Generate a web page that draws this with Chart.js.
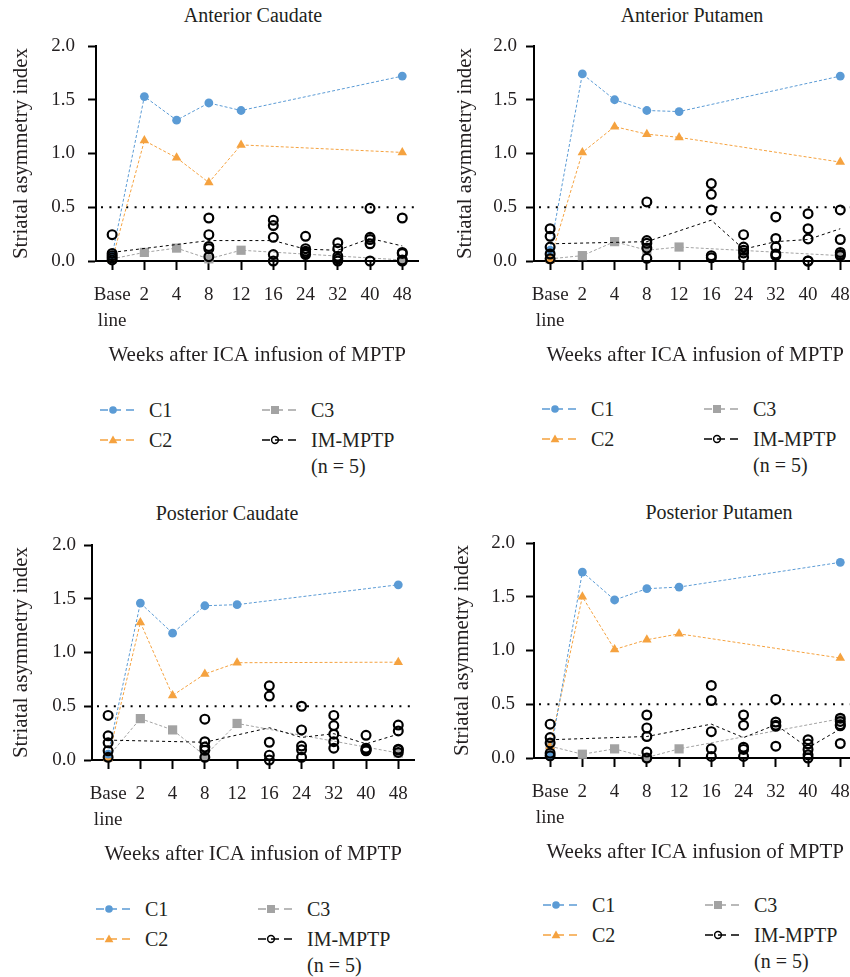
<!DOCTYPE html>
<html>
<head>
<meta charset="utf-8">
<script src="https://cdn.jsdelivr.net/npm/chart.js@4.4.1/dist/chart.umd.min.js"></script>
<style>
  html, body { margin: 0; padding: 0; background: #fff; }
  body { width: 850px; height: 977px; position: relative; overflow: hidden;
         font-family: "Liberation Serif", "Times New Roman", serif; color: #231f20; }
  .panel { position: absolute; }
  .ptitle { position: absolute; width: 300px; text-align: center; font-size: 20px; line-height: 24px; }
  .lg { position: absolute; font-size: 20px; line-height: 26px; white-space: nowrap; }
  .lg svg { position: absolute; left: 0; top: 6px; }
  .lg span { position: absolute; left: 49px; top: 0; }
</style>
</head>
<body>

<script>
// ── data ─────────────────────────────────────────
const LABELS = ['Baseline', '2', '4', '8', '12', '16', '24', '32', '40', '48'];
const Y_TICKS = [0, 0.5, 1.0, 1.5, 2.0];
const THRESHOLD = 0.5;
const SERIES = ['C1', 'C2', 'C3', 'IM-MPTP'];

// Anterior Caudate
const AC_C1 = [0.05, 1.53, 1.31, 1.47, 1.40, null, null, null, null, 1.72];
const AC_C2 = [0.01, 1.12, 0.96, 0.73, 1.08, null, null, null, null, 1.01];
const AC_C3 = [0.02, 0.08, 0.12, 0.02, 0.10, null, null, null, null, 0.01];
const AC_MEAN = [0.08, null, null, 0.19, null, 0.19, 0.11, 0.10, 0.21, 0.14];
const AC_IM = [[0.245, 0.07, 0.05, 0.03, 0.01], null, null,
  [0.40, 0.245, 0.135, 0.115, 0.04], null,
  [0.38, 0.33, 0.22, 0.06, 0.0], [0.23, 0.115, 0.09, 0.075, 0.06],
  [0.17, 0.115, 0.045, 0.02, 0.0], [0.49, 0.22, 0.20, 0.16, 0.0],
  [0.40, 0.08, 0.07, 0.01, 0.0]];

// Anterior Putamen
const AP_C1 = [0.10, 1.74, 1.50, 1.40, 1.39, null, null, null, null, 1.72];
const AP_C2 = [0.01, 1.01, 1.25, 1.18, 1.15, null, null, null, null, 0.92];
const AP_C3 = [0.02, 0.05, 0.18, 0.10, 0.13, null, null, null, null, 0.05];
const AP_MEAN = [0.16, null, null, 0.18, null, 0.38, 0.11, 0.18, 0.20, 0.30];
const AP_IM = [[0.30, 0.23, 0.13, 0.065, 0.02], null, null,
  [0.55, 0.19, 0.165, 0.12, 0.025], null,
  [0.72, 0.62, 0.475, 0.05, 0.03], [0.245, 0.13, 0.10, 0.075, 0.035],
  [0.41, 0.21, 0.13, 0.065, 0.05], [0.44, 0.30, 0.205, 0.0, 0.0],
  [0.475, 0.20, 0.08, 0.06, 0.05]];

// Posterior Caudate
const PC_C1 = [0.055, 1.46, 1.18, 1.435, 1.445, null, null, null, null, 1.63];
const PC_C2 = [0.015, 1.28, 0.60, 0.80, 0.905, null, null, null, null, 0.91];
const PC_C3 = [0.03, 0.385, 0.28, 0.04, 0.34, null, null, null, null, 0.065];
const PC_MEAN = [0.185, null, null, 0.165, null, 0.30, 0.21, 0.245, 0.15, 0.24];
const PC_IM = [[0.415, 0.225, 0.16, 0.085, 0.025], null, null,
  [0.38, 0.17, 0.12, 0.09, 0.025], null,
  [0.69, 0.595, 0.165, 0.045, 0.0], [0.50, 0.28, 0.13, 0.095, 0.025],
  [0.415, 0.32, 0.24, 0.17, 0.11], [0.23, 0.11, 0.10, 0.09, 0.085],
  [0.325, 0.27, 0.10, 0.095, 0.07]];

// Posterior Putamen
const PP_C1 = [0.025, 1.73, 1.47, 1.575, 1.59, null, null, null, null, 1.82];
const PP_C2 = [0.11, 1.50, 1.01, 1.10, 1.155, null, null, null, null, 0.93];
const PP_C3 = [0.11, 0.035, 0.085, 0.005, 0.085, null, null, null, null, 0.365];
const PP_MEAN = [0.17, null, null, 0.20, null, 0.315, 0.19, 0.31, 0.095, 0.27];
const PP_IM = [[0.315, 0.19, 0.14, 0.045, 0.02], null, null,
  [0.40, 0.28, 0.20, 0.055, 0.0], null,
  [0.675, 0.535, 0.245, 0.085, 0.015], [0.40, 0.305, 0.10, 0.08, 0.015],
  [0.545, 0.335, 0.305, 0.295, 0.11], [0.17, 0.13, 0.08, 0.03, 0.0],
  [0.37, 0.34, 0.31, 0.30, 0.135]];

// ── style ────────────────────────────────────────
const INK = '#231f20';
const C1_COLOR = '#5b9bd5';
const C2_COLOR = '#f5a23f';
const C3_COLOR = '#a3a3a3';
const FONT = '"Liberation Serif", serif';

const PANELS = [
  { title: 'Anterior Caudate',  c1: AC_C1, c2: AC_C2, c3: AC_C3, mean: AC_MEAN, im: AC_IM,
    left: 0,   top: 0,   tx: 253, ty: 15,  lx: 100, ly: 410, yTitlePad: 9,    tickPad: 13 },
  { title: 'Anterior Putamen',  c1: AP_C1, c2: AP_C2, c3: AP_C3, mean: AP_MEAN, im: AP_IM,
    left: 438, top: 0,   tx: 692, ty: 15,  lx: 542, ly: 409, yTitlePad: 14.4, tickPad: 9 },
  { title: 'Posterior Caudate', c1: PC_C1, c2: PC_C2, c3: PC_C3, mean: PC_MEAN, im: PC_IM,
    left: -4,  top: 499, tx: 227, ty: 513, lx: 96,  ly: 909, yTitlePad: 12.9, tickPad: 8 },
  { title: 'Posterior Putamen', c1: PP_C1, c2: PP_C2, c3: PP_C3, mean: PP_MEAN, im: PP_IM,
    left: 438, top: 497, tx: 719, ty: 512, lx: 543, ly: 905, yTitlePad: 11.9, tickPad: 11 }
];

Chart.defaults.font.family = FONT;
Chart.defaults.color = INK;

// dotted reference line at 0.5, drawn through the y scale
const thresholdLine = {
  id: 'thresholdLine',
  beforeDatasetsDraw(chart) {
    const { ctx, chartArea, scales } = chart;
    const y = scales.y.getPixelForValue(THRESHOLD);
    ctx.save();
    ctx.strokeStyle = '#000';
    ctx.lineWidth = 2;
    ctx.setLineDash([2, 6.4]);
    ctx.beginPath();
    ctx.moveTo(chartArea.left + 5, y);
    ctx.lineTo(chartArea.right, y);
    ctx.stroke();
    ctx.restore();
  }
};

function imPoints(im) {
  const pts = [];
  im.forEach((vals, i) => {
    if (!vals) return;
    vals.forEach(v => pts.push({ x: LABELS[i], y: v }));
  });
  return pts;
}

function lineSet(label, data, color, style, radius) {
  return {
    label, data, spanGaps: true, clip: false,
    borderColor: color, borderWidth: 1, borderDash: [3, 2],
    pointStyle: style, pointRadius: radius, pointHoverRadius: radius,
    pointBackgroundColor: color, pointBorderColor: color, pointBorderWidth: 0
  };
}

function addTitle(p) {
  const t = document.createElement('div');
  t.className = 'ptitle';
  t.textContent = p.title;
  t.style.left = (p.tx - 150) + 'px';
  t.style.top = (p.ty - 12) + 'px';
  document.body.appendChild(t);
}

function makePanel(p) {
  const wrap = document.createElement('div');
  wrap.className = 'panel';
  wrap.style.left = p.left + 'px';
  wrap.style.top = p.top + 'px';
  const canvas = document.createElement('canvas');
  canvas.width = 425;
  canvas.height = 371;
  wrap.appendChild(canvas);
  document.body.appendChild(wrap);

  new Chart(canvas, {
    type: 'line',
    data: {
      labels: LABELS,
      datasets: [
        {
          label: SERIES[3], data: imPoints(p.im), showLine: false, clip: false,
          pointStyle: 'circle', pointRadius: 4.4, pointHoverRadius: 4.4,
          pointBorderWidth: 2.2, pointBorderColor: '#000',
          pointBackgroundColor: 'rgba(0,0,0,0)'
        },
        lineSet(SERIES[0], p.c1, C1_COLOR, 'circle', 4.4),
        lineSet(SERIES[1], p.c2, C2_COLOR, 'triangle', 5.5),
        { ...lineSet(SERIES[3] + ' mean', p.mean, '#000', 'circle', 0), borderDash: [3, 3] },
        lineSet(SERIES[2], p.c3, C3_COLOR, 'rect', 6.5)
      ]
    },
    options: {
      responsive: false,
      animation: false,
      events: [],
      layout: { padding: { top: 46, right: 6, bottom: 0, left: 0 } },
      plugins: { legend: { display: false }, tooltip: { enabled: false } },
      scales: {
        x: {
          offset: true,
          grid: { drawOnChartArea: false, drawTicks: true, tickLength: 9, tickWidth: 2, tickColor: '#000' },
          border: { display: true, color: '#000', width: 2 },
          ticks: {
            padding: 12, maxRotation: 0, autoSkip: false, color: INK,
            font: { family: FONT, size: 19, lineHeight: 1.37 },
            callback: (v, i) => LABELS[i] === 'Baseline' ? ['Base', 'line'] : LABELS[i]
          },
          title: { display: true, text: 'Weeks after ICA infusion of MPTP', color: INK,
                   font: { family: FONT, size: 21 }, padding: { top: 4, bottom: 3.4 } },
          afterFit: s => { s.height = 110; }
        },
        y: {
          min: 0, max: 2,
          afterBuildTicks: s => { s.ticks = Y_TICKS.map(v => ({ value: v })); },
          grid: { drawOnChartArea: false, drawTicks: true, tickLength: 8, tickWidth: 2, tickColor: '#000' },
          border: { display: true, color: '#000', width: 2 },
          ticks: { padding: p.tickPad, color: INK, font: { family: FONT, size: 19 },
                   callback: v => v.toFixed(1) },
          title: { display: true, text: 'Striatal asymmetry index', color: INK,
                   font: { family: FONT, size: 21 }, padding: { top: p.yTitlePad, bottom: 0 } },
          afterFit: s => { s.width = 96; }
        }
      }
    },
    plugins: [thresholdLine]
  });

  addLegend(p.lx, p.ly);
}

function markerSvg(color, marker) {
  let m = '';
  if (marker === 'circle') m = `<circle cx="13" cy="7" r="3.8" fill="${color}"/>`;
  if (marker === 'triangle') m = `<polygon points="13,2.6 17.4,10.2 8.6,10.2" fill="${color}"/>`;
  if (marker === 'rect') m = `<rect x="9" y="3" width="8" height="8" fill="${color}"/>`;
  if (marker === 'open') m = `<circle cx="13" cy="7" r="3.4" fill="none" stroke="${color}" stroke-width="1.5"/>`;
  return `<svg width="36" height="14" viewBox="0 0 36 14">` +
    `<line x1="0" y1="7" x2="34" y2="7" stroke="${color}" stroke-width="1.3" stroke-dasharray="8 5"/>` +
    m + `</svg>`;
}

function addLegend(x, y) {
  const items = [
    { text: SERIES[0], color: C1_COLOR, marker: 'circle', dx: 0, dy: 0 },
    { text: SERIES[1], color: C2_COLOR, marker: 'triangle', dx: 0, dy: 30 },
    { text: SERIES[2], color: C3_COLOR, marker: 'rect', dx: 162, dy: 0 },
    { text: SERIES[3] + '<br>(n = 5)', color: '#000', marker: 'open', dx: 162, dy: 30 }
  ];
  items.forEach(it => {
    const d = document.createElement('div');
    d.className = 'lg';
    d.style.left = (x + it.dx) + 'px';
    d.style.top = (y + it.dy - 13) + 'px';
    d.innerHTML = markerSvg(it.color, it.marker) + `<span>${it.text}</span>`;
    document.body.appendChild(d);
  });
}

PANELS.forEach(addTitle);
// make sure the serif face is ready before the canvases draw their text
document.fonts.load('19px "Liberation Serif"').then(() => {
  PANELS.forEach(makePanel);
});
</script>
</body>
</html>
